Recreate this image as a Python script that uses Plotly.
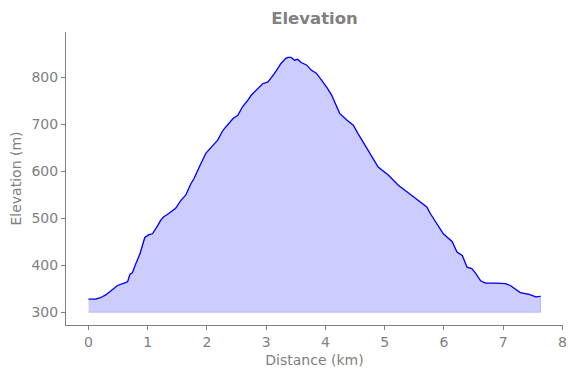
import plotly.graph_objects as go

distance_km = [0, 0.12, 0.2, 0.29, 0.37, 0.49, 0.6, 0.66, 0.7, 0.74, 0.8, 0.87, 0.95, 1.02,
               1.08, 1.12, 1.17, 1.22, 1.27, 1.33, 1.47, 1.56, 1.64, 1.73, 1.78, 1.87, 1.98,
               2.1, 2.18, 2.27, 2.35, 2.44, 2.52, 2.6, 2.69, 2.75, 2.94, 3.03, 3.14, 3.25,
               3.33, 3.37, 3.42, 3.48, 3.53, 3.59, 3.68, 3.76, 3.85, 3.93, 4.02, 4.1, 4.19,
               4.24, 4.36, 4.47, 4.55, 4.67, 4.78, 4.89, 5.06, 5.23, 5.43, 5.57, 5.71, 5.77,
               5.88, 5.99, 6.14, 6.22, 6.31, 6.39, 6.47, 6.53, 6.62, 6.7, 6.87, 7.04, 7.12,
               7.21, 7.29, 7.44, 7.55, 7.63]
elevation_m = [328, 328, 331, 337, 345, 357, 362, 365, 381, 384, 404, 425, 459, 465,
               467, 474, 485, 496, 503, 508, 521, 538, 549, 574, 584, 609, 638,
               655, 666, 687, 698, 712, 719, 737, 751, 762, 786, 790, 808, 829,
               840, 842, 842, 836, 838, 831, 826, 815, 808, 795, 779, 763, 738,
               723, 709, 698, 680, 655, 630, 609, 592, 570, 551, 538, 524, 510,
               489, 467, 450, 428, 421, 396, 393, 384, 367, 362, 362, 361, 357,
               348, 342, 338, 333, 334]
base_elevation = 300
x_ticks = [0, 1, 2, 3, 4, 5, 6, 7, 8]
y_ticks = [300, 400, 500, 600, 700, 800]

grey = "#808080"
font_family = "DejaVu Sans"

poly_x = distance_km + distance_km[::-1]
poly_y = elevation_m + [base_elevation] * len(distance_km)

fig = go.Figure()
fig.add_trace(go.Scatter(
    x=poly_x, y=poly_y, mode="lines", fill="toself",
    fillcolor="rgba(0,0,255,0.2)",
    line=dict(color="rgba(0,0,255,0.2)", width=1),
    hoverinfo="skip", showlegend=False,
))
fig.add_trace(go.Scatter(
    x=distance_km, y=elevation_m, mode="lines",
    line=dict(color="#0000ff", width=1.3),
    showlegend=False,
))

fig.update_layout(
    width=575, height=378,
    margin=dict(l=58, r=20, t=24, b=61, autoexpand=False),
    plot_bgcolor="white", paper_bgcolor="white",
    font=dict(family=font_family, color=grey, size=14),
    title=dict(text="<b>Elevation</b>", x=0.5, xref="paper", xanchor="center",
               y=1 - 10 / 378, yref="container", yanchor="middle",
               font=dict(family=font_family, size=16.5, color=grey)),
    showlegend=False,
)
fig.update_xaxes(
    range=[-0.38, 8.01], tickvals=x_ticks, ticktext=[str(t) for t in x_ticks],
    showline=True, linecolor=grey, linewidth=1, mirror=False,
    showgrid=False, zeroline=False, automargin=False,
    ticks="outside", ticklen=4, tickcolor=grey, tickwidth=1,
    tickfont=dict(family=font_family, size=14, color=grey),
    title=dict(text="Distance (km)", font=dict(family=font_family, size=14, color=grey), standoff=6),
)
fig.update_yaxes(
    range=[273, 896], tickvals=y_ticks, ticktext=[str(t) for t in y_ticks],
    showline=True, linecolor=grey, linewidth=1, mirror=False,
    showgrid=False, zeroline=False, automargin=False,
    ticks="outside", ticklen=4, tickcolor=grey, tickwidth=1,
    tickfont=dict(family=font_family, size=14, color=grey),
    title=dict(text="Elevation (m)", font=dict(family=font_family, size=14, color=grey), standoff=6),
)

fig.write_html("out.html")
